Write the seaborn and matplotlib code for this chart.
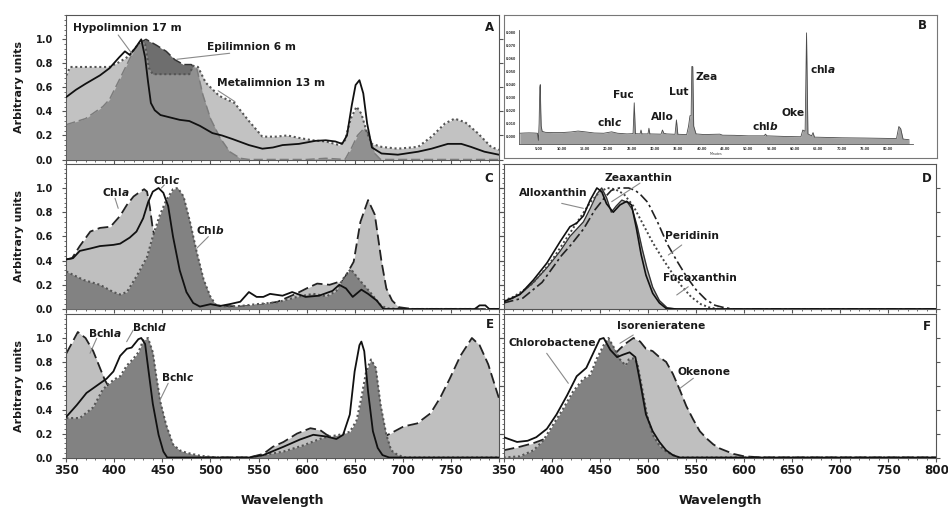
import numpy as np
import matplotlib
matplotlib.use("Agg")
import matplotlib.pyplot as plt
from matplotlib.ticker import MultipleLocator, FixedLocator, NullFormatter
import seaborn as sns

# ---------------- Panel A : lake depth spectra ----------------
hypo_wl = [350, 360, 370, 385, 395, 405, 411, 416, 422, 428, 432, 435, 438, 442, 448, 458, 468, 478,
           489, 502, 512, 523, 540, 554, 565, 575, 592, 609, 620, 630, 637, 642, 647, 651, 655, 659,
           663, 668, 678, 695, 716, 730, 747, 761, 771, 785, 800]
hypo_val = [0.52, 0.58, 0.63, 0.70, 0.76, 0.85, 0.90, 0.87, 0.93, 1.00, 0.85, 0.65, 0.47, 0.41, 0.37,
            0.35, 0.33, 0.32, 0.28, 0.22, 0.20, 0.17, 0.12, 0.09, 0.10, 0.12, 0.13, 0.155, 0.16, 0.15,
            0.13, 0.20, 0.45, 0.62, 0.66, 0.55, 0.30, 0.10, 0.05, 0.04, 0.065, 0.09, 0.13, 0.13, 0.105,
            0.065, 0.04]
meta_wl = [350, 354, 395, 405, 415, 422, 428, 432, 436, 440, 478, 482, 487, 495, 509, 525, 540, 554,
           568, 580, 592, 606, 620, 634, 640, 646, 652, 657, 663, 668, 678, 695, 716, 730, 744, 754,
           765, 778, 792, 800]
meta_val = [0.70, 0.77, 0.77, 0.81, 0.86, 0.93, 0.99, 0.96, 0.76, 0.71, 0.71, 0.78, 0.77, 0.64, 0.53,
            0.47, 0.32, 0.19, 0.19, 0.20, 0.18, 0.16, 0.15, 0.12, 0.16, 0.34, 0.44, 0.38, 0.22, 0.13,
            0.105, 0.09, 0.105, 0.19, 0.30, 0.34, 0.31, 0.22, 0.105, 0.08]
epi_wl = [350, 370, 388, 395, 405, 413, 420, 426, 433, 444, 454, 463, 472, 480, 486, 492, 500, 510,
          520, 531, 540, 600, 620, 640, 647, 653, 660, 665, 671, 677, 800]
epi_val = [0.29, 0.34, 0.44, 0.50, 0.66, 0.79, 0.90, 0.97, 1.00, 0.95, 0.90, 0.83, 0.79, 0.79, 0.75,
           0.54, 0.34, 0.18, 0.065, 0.01, 0.0, 0.0, 0.01, 0.0, 0.10, 0.20, 0.26, 0.20, 0.05, 0.0, 0.0]

# ---------------- Panel B : HPLC chromatogram ----------------
hplc_time = [1.0, 2.0, 3.0, 4.0, 4.8, 5.0, 5.15, 5.3, 5.4, 5.5, 5.6, 5.8, 6.5, 8, 10, 12, 13.5, 15, 17,
             19, 20.7, 22, 24, 25.3, 25.55, 25.8, 26.8, 27.0, 27.2, 28.5, 28.7, 28.9, 31.3, 31.6, 31.9,
             32.5, 34.3, 34.6, 34.9, 36.8, 37.2, 37.5, 37.75, 37.9, 38.1, 38.3, 38.8, 40.5, 43.9, 44.5,
             47, 50, 53.4, 53.7, 54, 58, 61.3, 61.7, 62.2, 62.5, 62.8, 63.6, 63.9, 64.2, 70, 75, 80,
             81.8, 82.3, 82.7, 83.2, 84.5]
hplc_signal = [0.0025, 0.0027, 0.0028, 0.0027, 0.0025, -0.003, 0.010, 0.038, 0.040, 0.020, 0.008,
               0.004, 0.0032, 0.003, 0.003, 0.0035, 0.0042, 0.0036, 0.0027, 0.0025, 0.0036, 0.0025,
               0.002, 0.0022, 0.026, 0.0022, 0.002, 0.005, 0.002, 0.002, 0.0064, 0.002, 0.0018, 0.005,
               0.0025, 0.002, 0.0017, 0.0128, 0.0017, 0.0015, 0.008, 0.016, 0.016, 0.054, 0.054, 0.008,
               0.002, 0.0015, 0.0018, 0.001, 0.0009, 0.0005, 0.0005, 0.0018, 0.0005, 0.0, -0.0002,
               0.005, 0.004, 0.080, 0.002, 0.0005, 0.003, -0.0005, -0.001, -0.0012, -0.0015, -0.0015,
               0.0077, 0.006, -0.002, -0.0025]
hplc_labels = ["chl$\\it{c}$", "Fuc", "Allo", "Lut", "Zea", "chl$\\it{b}$", "Oke", "chl$\\it{a}$"]
hplc_xticks = [5, 10, 15, 20, 25, 30, 35, 40, 45, 50, 55, 60, 65, 70, 75, 80]
hplc_yticks = [0.00, 0.01, 0.02, 0.03, 0.04, 0.05, 0.06, 0.07, 0.08]

# ---------------- Panel C : chlorophylls ----------------
chla_wl = [350, 356, 364, 375, 385, 396, 406, 413, 420, 427, 431, 434, 437, 440, 444, 455, 470, 490,
           505, 530, 550, 570, 590, 600, 611, 624, 638, 649, 656, 664, 671, 678, 683, 689, 696, 710, 800]
chla_val = [0.41, 0.42, 0.52, 0.64, 0.67, 0.68, 0.77, 0.86, 0.93, 0.97, 0.99, 0.97, 0.84, 0.66, 0.55,
            0.42, 0.28, 0.12, 0.03, 0.02, 0.03, 0.06, 0.13, 0.17, 0.21, 0.20, 0.235, 0.39, 0.72, 0.90,
            0.78, 0.39, 0.17, 0.07, 0.015, 0.0, 0.0]
chlb_wl = [350, 368, 385, 399, 406, 413, 423, 434, 440, 447, 454, 461, 466, 472, 479, 486, 493, 500,
           506, 517, 531, 548, 569, 590, 607, 621, 631, 638, 646, 655, 666, 676, 683, 700, 800]
chlb_val = [0.31, 0.24, 0.20, 0.14, 0.12, 0.14, 0.27, 0.43, 0.60, 0.77, 0.90, 0.99, 1.00, 0.93, 0.71,
            0.46, 0.24, 0.10, 0.03, 0.02, 0.025, 0.04, 0.055, 0.10, 0.125, 0.105, 0.15, 0.25, 0.33,
            0.24, 0.14, 0.04, 0.005, 0.0, 0.0]
chlc_wl = [350, 357, 364, 375, 385, 399, 406, 416, 423, 430, 435, 440, 446, 451, 456, 461, 468, 475,
           482, 489, 500, 510, 520, 531, 540, 548, 555, 562, 575, 585, 599, 613, 627, 634, 641, 648,
           657, 664, 673, 680, 775, 780, 786, 790, 800]
chlc_val = [0.41, 0.42, 0.48, 0.50, 0.52, 0.53, 0.54, 0.59, 0.64, 0.75, 0.88, 0.97, 1.00, 0.96, 0.85,
            0.60, 0.32, 0.14, 0.05, 0.02, 0.04, 0.025, 0.04, 0.06, 0.14, 0.10, 0.10, 0.125, 0.11, 0.14,
            0.10, 0.11, 0.15, 0.20, 0.17, 0.10, 0.16, 0.125, 0.07, 0.0, 0.0, 0.03, 0.03, 0.0, 0.0]

# ---------------- Panel D : carotenoids ----------------
zea_wl = [350, 360, 370, 381, 395, 409, 419, 426, 433, 440, 447, 452, 457, 462, 467, 473, 479, 484,
          489, 494, 499, 505, 512, 520, 530, 800]
zea_val = [0.06, 0.09, 0.14, 0.22, 0.34, 0.48, 0.60, 0.66, 0.72, 0.83, 0.95, 1.00, 0.92, 0.80, 0.85,
           0.90, 0.88, 0.82, 0.68, 0.50, 0.34, 0.18, 0.07, 0.01, 0.0, 0.0]
allo_wl = [350, 367, 381, 395, 409, 419, 426, 433, 440, 447, 452, 457, 464, 471, 478, 483, 488, 493,
           498, 505, 512, 519, 530, 800]
allo_val = [0.06, 0.12, 0.24, 0.38, 0.56, 0.68, 0.71, 0.77, 0.90, 1.00, 0.97, 0.87, 0.80, 0.86, 0.89,
            0.86, 0.67, 0.45, 0.28, 0.13, 0.05, 0.005, 0.0, 0.0]
fuco_wl = [350, 360, 370, 380, 390, 400, 410, 420, 430, 440, 450, 458, 466, 475, 485, 495, 505, 515,
           525, 535, 545, 555, 565, 575, 800]
fuco_val = [0.07, 0.10, 0.15, 0.21, 0.30, 0.40, 0.52, 0.64, 0.76, 0.88, 0.97, 1.00, 0.99, 0.95, 0.85,
            0.70, 0.55, 0.42, 0.30, 0.19, 0.10, 0.04, 0.01, 0.0, 0.0]
peri_wl = [350, 370, 390, 410, 420, 433, 445, 455, 462, 470, 480, 487, 493, 500, 510, 520, 530, 540,
           550, 560, 570, 580, 590, 800]
peri_val = [0.05, 0.09, 0.22, 0.44, 0.53, 0.66, 0.82, 0.92, 0.98, 1.00, 1.00, 0.98, 0.94, 0.88, 0.72,
            0.54, 0.40, 0.27, 0.16, 0.08, 0.03, 0.01, 0.0, 0.0]

# ---------------- Panel E : bacteriochlorophylls ----------------
bchla_wl = [350, 356, 362, 370, 378, 385, 390, 395, 420, 440, 460, 480, 500, 540, 555, 565, 576, 590,
            604, 614, 621, 628, 640, 660, 680, 687, 701, 715, 729, 739, 749, 760, 772, 780, 789, 798, 800]
bchla_val = [0.87, 0.96, 1.05, 1.00, 0.89, 0.75, 0.65, 0.58, 0.30, 0.12, 0.04, 0.01, 0.0, 0.0, 0.03,
             0.09, 0.13, 0.20, 0.245, 0.23, 0.19, 0.165, 0.165, 0.165, 0.17, 0.20, 0.26, 0.285, 0.37,
             0.50, 0.66, 0.85, 1.00, 0.94, 0.78, 0.55, 0.50]
bchlc_wl = [350, 364, 378, 388, 399, 406, 413, 420, 425, 430, 435, 440, 444, 448, 454, 461, 468, 475,
            489, 506, 540, 555, 576, 596, 617, 634, 645, 652, 657, 662, 667, 672, 677, 683, 688, 695,
            703, 800]
bchlc_val = [0.33, 0.33, 0.42, 0.57, 0.65, 0.68, 0.77, 0.83, 0.88, 0.98, 1.00, 0.88, 0.66, 0.46, 0.27,
             0.11, 0.06, 0.04, 0.015, 0.0, 0.0, 0.02, 0.05, 0.10, 0.165, 0.19, 0.215, 0.31, 0.50, 0.72,
             0.82, 0.75, 0.44, 0.19, 0.06, 0.02, 0.0, 0.0]
bchld_wl = [350, 361, 371, 385, 392, 399, 406, 413, 418, 425, 428, 432, 435, 440, 446, 451, 455, 540,
            555, 576, 593, 607, 621, 631, 638, 645, 650, 655, 657, 660, 664, 669, 674, 679, 686, 800]
bchld_val = [0.34, 0.44, 0.54, 0.62, 0.66, 0.72, 0.85, 0.91, 0.92, 0.99, 1.00, 0.95, 0.76, 0.45, 0.19,
             0.05, 0.0, 0.0, 0.02, 0.09, 0.15, 0.19, 0.175, 0.155, 0.19, 0.36, 0.72, 0.94, 0.97, 0.89,
             0.55, 0.22, 0.08, 0.02, 0.0, 0.0]

# ---------------- Panel F : bacterial carotenoids ----------------
chlorob_wl = [350, 364, 375, 384, 395, 405, 416, 426, 436, 443, 450, 454, 461, 468, 474, 481, 487, 492,
              498, 505, 512, 519, 526, 533, 800]
chlorob_val = [0.17, 0.13, 0.14, 0.17, 0.24, 0.36, 0.52, 0.68, 0.75, 0.87, 0.99, 1.00, 0.90, 0.84,
               0.86, 0.88, 0.84, 0.63, 0.36, 0.22, 0.13, 0.06, 0.02, 0.0, 0.0]
isor_wl = [350, 367, 381, 391, 401, 412, 422, 433, 440, 447, 454, 459, 464, 471, 477, 480, 485, 489,
           494, 499, 505, 512, 519, 526, 533, 800]
isor_val = [0.0, 0.01, 0.06, 0.14, 0.27, 0.41, 0.55, 0.66, 0.69, 0.83, 0.94, 1.00, 0.93, 0.82, 0.77,
            0.82, 0.83, 0.79, 0.58, 0.36, 0.19, 0.10, 0.05, 0.02, 0.0, 0.0]
oken_wl = [350, 367, 381, 391, 400, 420, 440, 460, 471, 478, 485, 492, 498, 505, 512, 519, 526, 533,
           540, 547, 554, 561, 568, 575, 589, 600, 610, 620, 800]
oken_val = [0.06, 0.09, 0.12, 0.15, 0.19, 0.38, 0.60, 0.82, 0.91, 0.96, 1.00, 0.97, 0.91, 0.89, 0.84,
            0.80, 0.70, 0.57, 0.43, 0.32, 0.22, 0.16, 0.11, 0.075, 0.03, 0.01, 0.005, 0.0, 0.0]

wl_ticks = [350, 400, 450, 500, 550, 600, 650, 700, 750, 800]
y_ticks = [0.0, 0.2, 0.4, 0.6, 0.8, 1.0]

# ---------------- styling ----------------
sns.set_theme(style="white")
plt.rcParams["font.family"] = ["DejaVu Sans"]
plt.rcParams["font.weight"] = "bold"
plt.rcParams["mathtext.fontset"] = "custom"
plt.rcParams["mathtext.it"] = "DejaVu Sans:italic:bold"
plt.rcParams["mathtext.rm"] = "DejaVu Sans:bold"
plt.rcParams["mathtext.default"] = "rm"

LIGHT = "#bfbfbf"
DARK = "#828282"
TXT = "#1a1a1a"
LEAD = "#8a8a8a"
DASH = (0, (6, 2.5))
DOT = (0, (1, 1.3))
DASHDOT = (0, (6, 2, 1.5, 2))

W, H = 948, 512
fig = plt.figure(figsize=(W / 100, H / 100), dpi=100)
fig.patch.set_facecolor("white")


def add_ax(x0, y0, x1, y1):
    return fig.add_axes([x0 / W, 1 - y1 / H, (x1 - x0) / W, (y1 - y0) / H])


LX = (66.3, 498.8)
RX = (503.6, 936.4)
ROWS = [(15.3, 159.5), (163.8, 309.0), (314.1, 457.5)]


def style_spec(ax, left_labels, bottom_labels):
    ax.set_xlim(350, 800)
    ax.set_ylim(0, 1.2)
    for s in ax.spines.values():
        s.set_color("#555555")
        s.set_linewidth(0.8)
    ax.xaxis.set_major_locator(FixedLocator(wl_ticks))
    ax.xaxis.set_minor_locator(MultipleLocator(10))
    ax.yaxis.set_major_locator(FixedLocator(y_ticks))
    ax.yaxis.set_minor_locator(MultipleLocator(0.04))
    ax.tick_params(axis="x", which="major", direction="out", length=3, width=0.8,
                   color="#555555", labelsize=8.6, pad=1.5, bottom=True, top=False)
    ax.tick_params(axis="x", which="minor", direction="out", length=1.6, width=0.6,
                   color="#555555", bottom=True, top=False)
    ax.tick_params(axis="y", which="major", direction="out", length=3, width=0.8,
                   color="#555555", labelsize=7, pad=6.5, left=True, right=True)
    ax.tick_params(axis="y", which="minor", direction="out", length=1.6, width=0.6,
                   color="#555555", left=True, right=False)
    if left_labels:
        ax.set_yticklabels([f"{v:.1f}" for v in y_ticks], fontweight="bold", color=TXT)
        ax.set_ylabel("Arbitrary units", fontsize=8, fontweight="bold", color=TXT)
        ax.yaxis.set_label_coords(-0.097, 0.5)
    else:
        ax.yaxis.set_major_formatter(NullFormatter())
        ax.set_ylabel("")
    if bottom_labels:
        labs = [str(v) for v in wl_ticks]
        if bottom_labels == "left":
            labs[-1] = ""
        ax.set_xticklabels(labs, fontweight="bold", color=TXT)
        ax.set_xlabel("Wavelength", fontsize=9, fontweight="bold", color=TXT)
        ax.xaxis.set_label_coords(0.5, -0.255)
    else:
        ax.xaxis.set_major_formatter(NullFormatter())
        ax.set_xlabel("")
    ax.set_facecolor("white")


def fill(ax, wl, val, color, z, alpha=1.0):
    ax.fill_between(wl, val, 0, color=color, lw=0, zorder=z, alpha=alpha)


def line(ax, wl, val, ls, color, lw, z):
    sns.lineplot(x=wl, y=val, ax=ax, color=color, linestyle=ls, lw=lw, zorder=z,
                 sort=False, estimator=None, legend=False)


def note(ax, x, y, s, lead=None, size=7.7):
    ax.text(x, y, s, fontsize=size, fontweight="bold", color=TXT, ha="left", va="center", zorder=10)
    if lead is not None:
        ax.plot([lead[0], lead[2]], [lead[1], lead[3]], color=LEAD, lw=0.8, zorder=9)


def letter(ax, s, yf):
    ax.text(0.988, yf, s, transform=ax.transAxes, fontsize=8.5, fontweight="bold",
            color=TXT, ha="right", va="center", zorder=10)


# ---------- A ----------
axA = add_ax(LX[0], ROWS[0][0], LX[1], ROWS[0][1])
fill(axA, epi_wl, epi_val, "#6e6e6e", 1)
line(axA, epi_wl, epi_val, DASH, "#333333", 1.1, 2)
fill(axA, meta_wl, meta_val, "#a3a3a3", 3, alpha=0.66)
line(axA, meta_wl, meta_val, DOT, "#555555", 1.5, 4)
line(axA, hypo_wl, hypo_val, "-", "#111111", 1.3, 5)
style_spec(axA, True, False)
note(axA, 357, 1.094, "Hypolimnion 17 m", (404, 1.036, 418, 0.884))
note(axA, 496, 0.938, "Epilimnion 6 m", (520, 0.884, 465, 0.834))
note(axA, 506.5, 0.634, "Metalimnion 13 m", (508, 0.572, 525.5, 0.481))
letter(axA, "A", 0.912)

# ---------- B ----------
axBo = add_ax(504, 15, 937, 158)
axBo.set_xticks([])
axBo.set_yticks([])
for s in axBo.spines.values():
    s.set_color("#777777")
    s.set_linewidth(0.8)
axBo.text(0.976, 0.93, "B", transform=axBo.transAxes, fontsize=8.5, fontweight="bold",
          color=TXT, ha="right", va="center")
axB = add_ax(519.3, 30, 913.3, 144)
axB.set_xlim(0.9, 85.4)
axB.set_ylim(-0.0058, 0.0822)
axB.fill_between(hplc_time, hplc_signal, -0.0058, color="#a0a0a0", lw=0, zorder=1)
line(axB, hplc_time, hplc_signal, "-", "#4a4a4a", 0.6, 2)
for sp in ["top", "right"]:
    axB.spines[sp].set_visible(False)
for sp in ["left", "bottom"]:
    axB.spines[sp].set_color("#555555")
    axB.spines[sp].set_linewidth(0.6)
axB.set_facecolor("none")
axB.set_xticks(hplc_xticks)
axB.set_xticklabels([f"{v:.2f}" for v in hplc_xticks], fontsize=2.3, color="#333333")
axB.set_yticks(hplc_yticks)
axB.set_yticklabels([f"{v:.3f}" for v in hplc_yticks], fontsize=2.3, color="#333333")
axB.tick_params(axis="both", length=1.5, width=0.5, pad=0.8, color="#555555")
axB.set_xlabel("Minutes", fontsize=2.3, labelpad=0.5, color="#333333")
axB.set_ylabel("")
hplc_pos = [(0.230, 0.196), (0.264, 0.430), (0.362, 0.234), (0.404, 0.459), (0.475, 0.590),
            (0.624, 0.158), (0.694, 0.275), (0.772, 0.658)]
for lab, (fx, fy) in zip(hplc_labels, hplc_pos):
    axB.text(fx, fy, lab, transform=axB.transAxes, fontsize=7.7, fontweight="bold",
             color=TXT, ha="center", va="center")

# ---------- C ----------
axC = add_ax(LX[0], ROWS[1][0], LX[1], ROWS[1][1])
fill(axC, chla_wl, chla_val, LIGHT, 1)
line(axC, chla_wl, chla_val, DASH, "#222222", 1.3, 2)
fill(axC, chlb_wl, chlb_val, DARK, 3)
line(axC, chlb_wl, chlb_val, DOT, "#555555", 1.5, 4)
line(axC, chlc_wl, chlc_val, "-", "#111111", 1.3, 5)
style_spec(axC, True, False)
note(axC, 386.8, 0.969, "Chl$\\it{a}$", (400.7, 0.915, 404, 0.832))
note(axC, 440, 1.066, "Chl$\\it{c}$", (452, 1.025, 449, 1.0))
note(axC, 485, 0.653, "Chl$\\it{b}$", (497.8, 0.598, 485.7, 0.502))
letter(axC, "C", 0.90)

# ---------- D ----------
axD = add_ax(RX[0], ROWS[1][0], RX[1], ROWS[1][1])
fill(axD, zea_wl, zea_val, "#bababa", 1)
line(axD, zea_wl, zea_val, "-", "#333333", 1.0, 2)
line(axD, allo_wl, allo_val, "-", "#111111", 1.2, 5)
line(axD, fuco_wl, fuco_val, DOT, "#444444", 1.4, 4)
line(axD, peri_wl, peri_val, DASHDOT, "#222222", 1.2, 4)
style_spec(axD, False, False)
note(axD, 455.4, 1.08, "Zeaxanthin", (491.8, 1.04, 462.4, 0.887))
note(axD, 366.3, 0.956, "Alloxanthin", (410.4, 0.873, 432.9, 0.832))
note(axD, 517.8, 0.603, "Peridinin", (535.2, 0.529, 521.3, 0.446))
note(axD, 516, 0.254, "Fucoxanthin", (542, 0.184, 530, 0.116))
letter(axD, "D", 0.90)

# ---------- E ----------
axE = add_ax(LX[0], ROWS[2][0], LX[1], ROWS[2][1])
fill(axE, bchla_wl, bchla_val, LIGHT, 1)
line(axE, bchla_wl, bchla_val, DASH, "#222222", 1.3, 2)
fill(axE, bchlc_wl, bchlc_val, DARK, 3)
line(axE, bchlc_wl, bchlc_val, DOT, "#555555", 1.5, 4)
line(axE, bchld_wl, bchld_val, "-", "#111111", 1.3, 5)
style_spec(axE, True, "left")
note(axE, 373, 1.039, "Bchl$\\it{a}$", (381.6, 0.997, 374.7, 0.872))
note(axE, 418, 1.095, "Bchl$\\it{d}$", (419.7, 1.067, 412.8, 0.969))
note(axE, 448.5, 0.676, "Bchl$\\it{c}$", (456, 0.621, 447.5, 0.481))
letter(axE, "E", 0.924)

# ---------- F ----------
axF = add_ax(RX[0], ROWS[2][0], RX[1], ROWS[2][1])
fill(axF, oken_wl, oken_val, LIGHT, 1)
line(axF, oken_wl, oken_val, DASH, "#222222", 1.3, 2)
fill(axF, isor_wl, isor_val, DARK, 3)
line(axF, isor_wl, isor_val, DOT, "#555555", 1.5, 4)
line(axF, chlorob_wl, chlorob_val, "-", "#111111", 1.3, 5)
style_spec(axF, False, "right")
note(axF, 468.3, 1.10, "Isorenieratene", (471, 0.956, 484.8, 1.025))
note(axF, 354.9, 0.956, "Chlorobactene", (394.8, 0.872, 417.3, 0.621))
note(axF, 531, 0.718, "Okenone", (547.3, 0.663, 533.4, 0.579))
letter(axF, "F", 0.912)

fig.savefig("out.png", dpi=100, facecolor="white")
